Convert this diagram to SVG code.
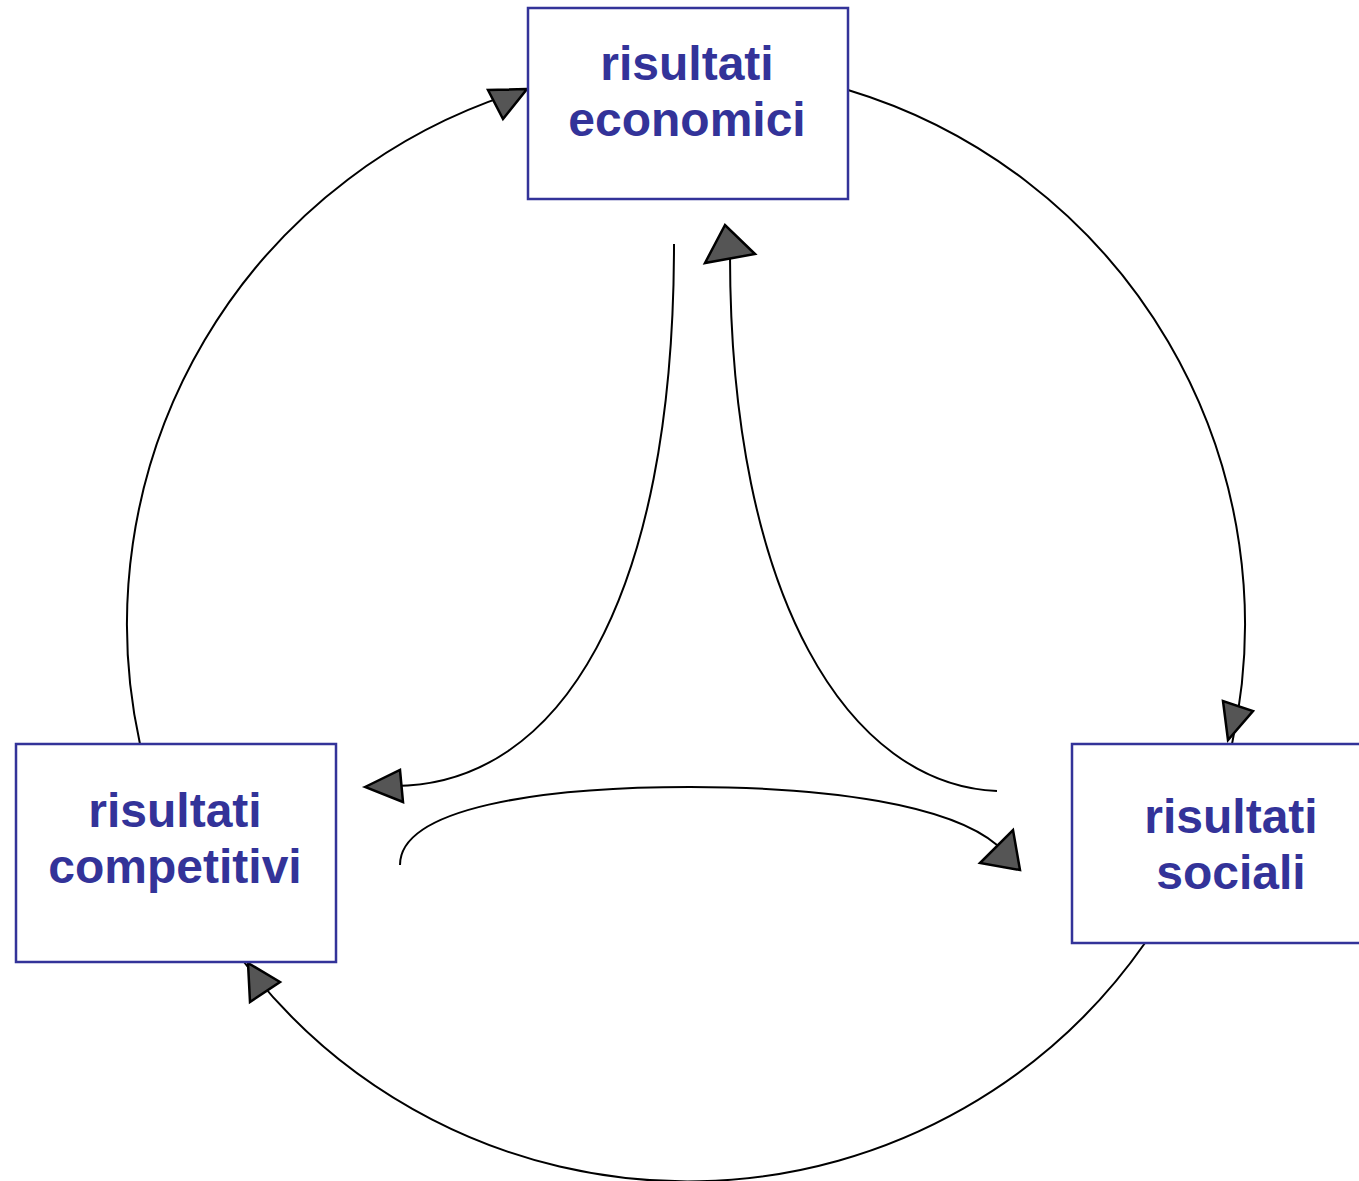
<svg xmlns="http://www.w3.org/2000/svg" width="1359" height="1181" viewBox="0 0 1359 1181">
<style>
.box{fill:#fff;stroke:#333399;stroke-width:2.5}
.lbl{font-family:"Liberation Sans",Arial,sans-serif;font-weight:bold;font-size:48px;fill:#333399;text-anchor:middle}
.con{fill:none;stroke:#000;stroke-width:2}
.ah{fill:#555;stroke:#000;stroke-width:2.5;stroke-linejoin:miter}
</style>
<rect width="1359" height="1181" fill="#fff"/>
<g id="connectors">
<path class="con" d="M140,744 A558,558 0 0 1 527,89"/>
<path class="con" d="M848,90 A558,558 0 0 1 1232,744"/>
<path class="con" d="M1145,943 A558,558 0 0 1 244,962"/>
<path class="con" d="M674,244 C674,600 560,785 395,786"/>
<path class="con" d="M997,791 C850,785 730,600 730,255"/>
<path class="con" d="M400,865 C400,808 540,787 690,787 C830,787 950,805 997,845"/>
<polygon class="ah" points="527,89 488,90 503,119"/>
<polygon class="ah" points="725,225 705,263 755,254"/>
<polygon class="ah" points="1228,740 1223,701 1253,711"/>
<polygon class="ah" points="365,787 400,770 403,802"/>
<polygon class="ah" points="1020,870 1013,830 980,863"/>
<polygon class="ah" points="248,963 280,982 250,1002"/>
</g>
<g id="economici">
<rect class="box" x="528" y="8" width="320" height="191"/>
<text class="lbl" x="687" y="80">risultati</text>
<text class="lbl" x="687" y="136">economici</text>
</g>
<g id="competitivi">
<rect class="box" x="16" y="744" width="320" height="218"/>
<text class="lbl" x="175" y="827">risultati</text>
<text class="lbl" x="175" y="883">competitivi</text>
</g>
<g id="sociali">
<rect class="box" x="1072" y="744" width="300" height="199"/>
<text class="lbl" x="1231" y="833">risultati</text>
<text class="lbl" x="1231" y="889">sociali</text>
</g>
</svg>
